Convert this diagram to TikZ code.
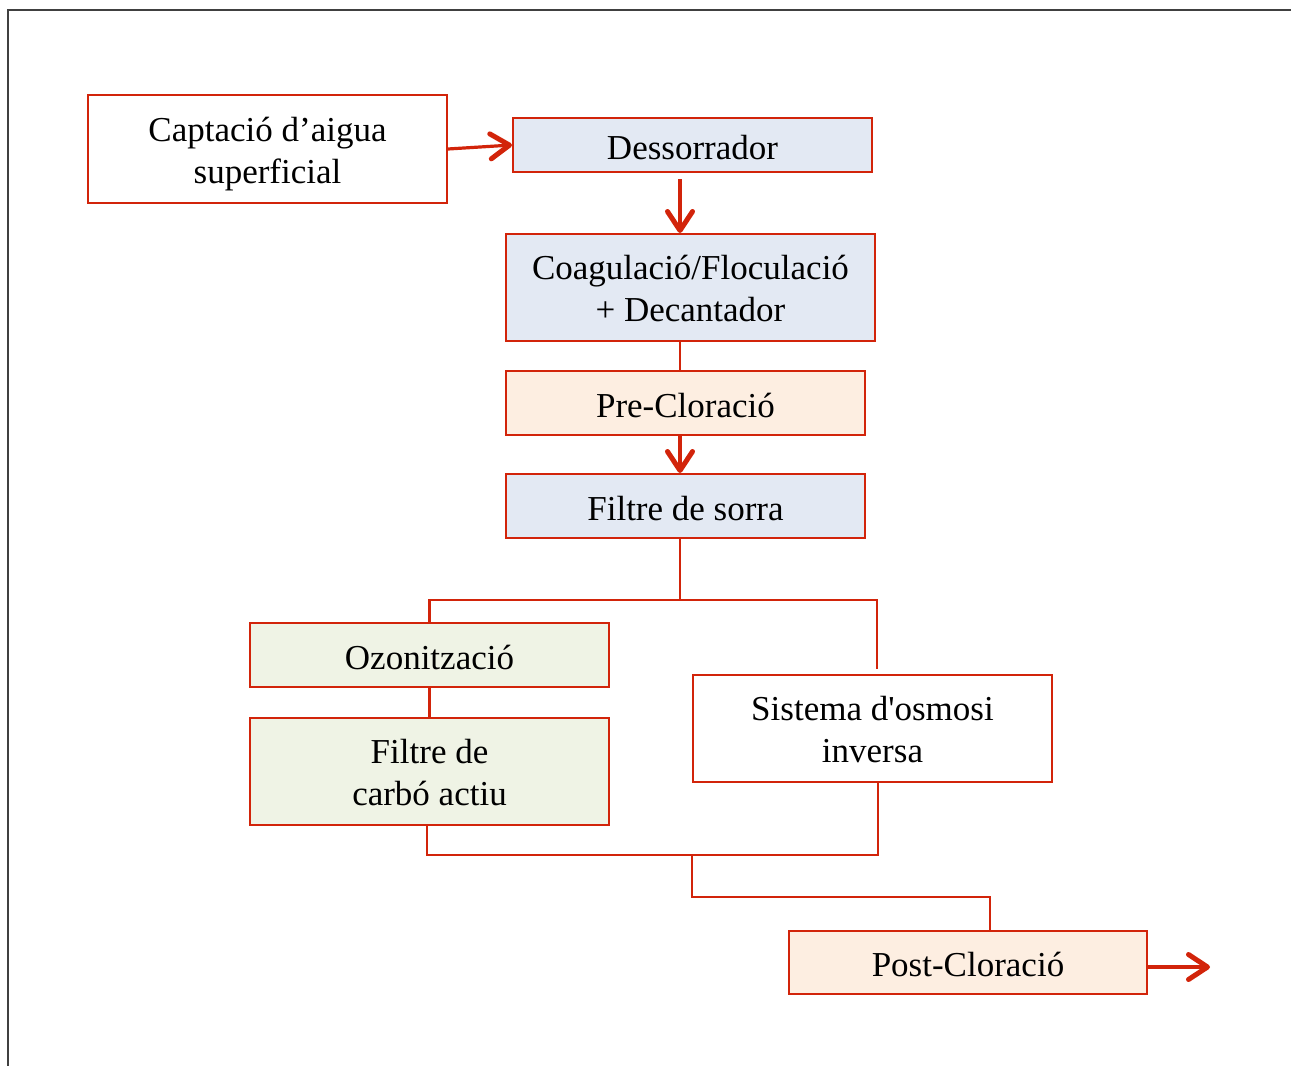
\documentclass[tikz,border=0pt]{standalone}
\usepackage{fontspec}
\setmainfont{Liberation Serif}
\usetikzlibrary{positioning,arrows.meta}

\definecolor{flowred}{RGB}{210,36,10}
\definecolor{fillblue}{RGB}{227,233,243}
\definecolor{fillpeach}{RGB}{253,238,225}
\definecolor{fillgreen}{RGB}{239,243,229}

\begin{document}
\begin{tikzpicture}[
    x=1pt, y=-1pt,
    stage/.style={rectangle,draw=flowred,line width=2pt,align=center,inner sep=0pt,
      minimum width=359pt},
    oneline/.style={stage,minimum height=64pt,text height=28pt,text depth=0pt},
    twoline/.style={stage,minimum height=107pt,text height=68pt,text depth=0pt},
    link/.style={draw=flowred,line width=2.6pt},
    flow/.style={link,line width=3.2pt,
      -{Straight Barb[length=19pt,width=25pt,line width=5pt,round]}},
    font=\fontsize{35}{42}\selectfont
    ]

    \useasboundingbox (0,0) rectangle (1291,1066);
    \draw[line width=2pt,black!75] (8,1066) -- (8,10) -- (1291,10);

    % stages:
    \node(capt) at (267.5,149) [twoline,fill=white,minimum height=108pt] {Captació d’aigua\\superficial};
    \node(dess) at (692.5,145) [oneline,fill=fillblue,minimum height=54pt] {Dessorrador};
    \node(coag) at (690.5,287.5) [twoline,fill=fillblue,minimum width=369pt] {Coagulació/Floculació\\+ Decantador};
    \node(pre) at (685.5,403) [oneline,fill=fillpeach] {Pre-Cloració};
    \node(sorra) at (685.5,506) [oneline,fill=fillblue] {Filtre de sorra};
    \node(ozon) at (429.5,655) [oneline,fill=fillgreen] {Ozonització};
    \node(carbo) at (429.5,771.5) [twoline,fill=fillgreen] {Filtre de\\carbó actiu};
    \node(osmo) at (872.5,728.5) [twoline,fill=white] {Sistema d\textquotesingle osmosi\\inversa};
    \node(post) at (968,962.5) [oneline,fill=fillpeach,minimum width=358pt,minimum height=63pt] {Post-Cloració};

    % branch points:
    \coordinate(spine) at (680,0);
    \coordinate(split) at (680,600);
    \coordinate(join) at (692,855);
    \coordinate(drop) at (692,897);
    \coordinate(out) at (1210,967);

    % connections
    \draw[flow] (capt.east) -- (dess.west);
    \draw[flow] ([yshift=-6pt]dess.south -| spine) -- (coag.north -| spine);
    \draw[link] (coag.south -| spine) -- (pre.north -| spine);
    \draw[flow] (pre.south -| spine) -- (sorra.north -| spine);
    \draw[link] (sorra.south -| spine) -- (split);
    \draw[link] (ozon.north) |- (split) -| ([xshift=4.5pt,yshift=5pt]osmo.north);
    \draw[link] (ozon.south) -- (carbo.north);
    \draw[link] ([xshift=-2.5pt,yshift=2pt]carbo.south) |- (join) -| ([xshift=5.5pt]osmo.south);
    \draw[link] (join) -- (drop) -| ([xshift=22pt]post.north);
    \draw[flow] (post.east |- out) -- (out);

  \end{tikzpicture}
\end{document}
